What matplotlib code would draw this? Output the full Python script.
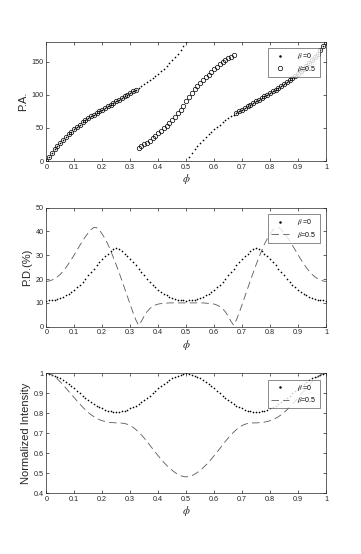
import numpy as np
import matplotlib
matplotlib.use("Agg")
import matplotlib.pyplot as plt
from matplotlib.ticker import FuncFormatter

plt.rcParams["font.family"] = ["Liberation Sans", "DejaVu Sans"]
plt.rcParams["mathtext.fontset"] = "stix"

# ── Daten ───────────────────────────────────────────────────────────────────
phi = np.linspace(0, 1, 101)

pa_b0 = [0, 6.5, 12.5, 18, 23, 27.5, 32, 36.5, 40.5, 44.5,
         48, 51.5, 55, 58.5, 61.5, 64.5, 67.5, 70, 72.5, 75,
         77.5, 80, 82.5, 85, 87.5, 90, 92.5, 95, 97.5, 100,
         102.5, 105, 107.5, 110, 112.5, 115.5, 118.5, 121.5, 125, 128.5,
         132, 135.5, 139.5, 143.5, 148, 152.5, 157, 161.5, 167, 173.5,
         180,
         6.5, 12.5, 18, 23, 27.5, 32, 36.5, 40.5, 44.5,
         48, 51.5, 55, 58.5, 61.5, 64.5, 67.5, 70, 72.5, 75,
         77.5, 80, 82.5, 85, 87.5, 90, 92.5, 95, 97.5, 100,
         102.5, 105, 107.5, 110, 112.5, 115.5, 118.5, 121.5, 125, 128.5,
         132, 135.5, 139.5, 143.5, 148, 152.5, 157, 161.5, 167, 173.5,
         180]

pa_b05 = [0, 6.5, 12.5, 18, 23, 27.5, 32, 36.5, 40.5, 44.5,
          48, 51.5, 55, 58.5, 61.5, 64.5, 67.5, 70, 72.5, 75,
          77.5, 80, 82.5, 85, 87.5, 90, 92.5, 95, 97.5, 100,
          102.5, 105, 107.5,
          20, 22.5, 25, 27.5, 30.5, 34, 37.5,
          41.5, 45.5, 49.5, 53.5, 58, 62.5, 67, 72, 77.5, 83.5,
          90, 96.5, 102.5, 108, 113, 117.5, 122, 126.5, 130.5, 134.5,
          138.5, 142.5, 146, 149.5, 152.5, 155, 157.5, 160,
          72.5, 75,
          77.5, 80, 82.5, 85, 87.5, 90, 92.5, 95, 97.5, 100,
          102.5, 105, 107.5, 110, 112.5, 115.5, 118.5, 121.5, 125, 128.5,
          132, 135.5, 139.5, 143.5, 148, 152.5, 157, 161.5, 167, 173.5,
          180]

pd_b0 = [11.0, 11.05, 11.2, 11.4, 11.7, 12.1, 12.6, 13.2, 13.9, 14.7,
         15.6, 16.6, 17.7, 18.9, 20.2, 21.6, 23.0, 24.4, 25.8, 27.1,
         28.3, 29.5, 30.6, 31.7, 32.6, 32.9,
         32.6, 31.7, 30.6, 29.5, 28.3, 27.1, 25.8, 24.4, 23.0, 21.6,
         20.2, 18.9, 17.7, 16.6, 15.6, 14.7, 13.9, 13.2, 12.6, 12.1,
         11.7, 11.4, 11.2, 11.05, 11.0,
         11.05, 11.2, 11.4, 11.7, 12.1, 12.6, 13.2, 13.9, 14.7,
         15.6, 16.6, 17.7, 18.9, 20.2, 21.6, 23.0, 24.4, 25.8, 27.1,
         28.3, 29.5, 30.6, 31.7, 32.6, 32.9,
         32.6, 31.7, 30.6, 29.5, 28.3, 27.1, 25.8, 24.4, 23.0, 21.6,
         20.2, 18.9, 17.7, 16.6, 15.6, 14.7, 13.9, 13.2, 12.6, 12.1,
         11.7, 11.4, 11.2, 11.05, 11.0]

pd_b05 = [19.0, 19.2, 19.6, 20.2, 21.0, 22.0, 23.3, 24.8, 26.5, 28.3,
          30.2, 32.2, 34.2, 36.1, 37.9, 39.4, 40.8, 41.7, 41.6, 40.6,
          38.9, 37.0, 34.7, 32.0, 29.0, 26.0, 22.8, 19.5, 16.1, 12.7,
          9.3, 6.0, 2.9, 0.6, 2.3, 4.5, 6.3, 7.6, 8.5, 9.1,
          9.5, 9.7, 9.8, 9.9, 10.0, 10.0, 10.0, 10.0, 10.0, 10.0,
          10.0,
          10.0, 10.0, 10.0, 10.0, 10.0, 10.0, 9.9, 9.8, 9.7, 9.5,
          9.1, 8.5, 7.6, 6.3, 4.5, 2.3, 0.6, 2.9, 6.0, 9.3,
          12.7, 16.1, 19.5, 22.8, 26.0, 29.0, 32.0, 34.7, 37.0, 38.9,
          40.6, 41.6, 41.7, 40.8, 39.4, 37.9, 36.1, 34.2, 32.2, 30.2,
          28.3, 26.5, 24.8, 23.3, 22.0, 21.0, 20.2, 19.6, 19.2, 19.0]

int_b0 = [1.000, 0.998, 0.994, 0.988, 0.982, 0.975, 0.966, 0.957, 0.946, 0.936,
          0.925, 0.913, 0.901, 0.889, 0.877, 0.866, 0.856, 0.846, 0.838, 0.831,
          0.825, 0.819, 0.814, 0.810, 0.807, 0.805,
          0.807, 0.810, 0.814, 0.819, 0.825, 0.831, 0.838, 0.846, 0.856, 0.866,
          0.877, 0.889, 0.901, 0.913, 0.925, 0.936, 0.946, 0.957, 0.966, 0.975,
          0.982, 0.988, 0.994, 0.998, 1.000,
          0.998, 0.994, 0.988, 0.982, 0.975, 0.966, 0.957, 0.946, 0.936,
          0.925, 0.913, 0.901, 0.889, 0.877, 0.866, 0.856, 0.846, 0.838, 0.831,
          0.825, 0.819, 0.814, 0.810, 0.807, 0.805,
          0.807, 0.810, 0.814, 0.819, 0.825, 0.831, 0.838, 0.846, 0.856, 0.866,
          0.877, 0.889, 0.901, 0.913, 0.925, 0.936, 0.946, 0.957, 0.966, 0.975,
          0.982, 0.988, 0.994, 0.998, 1.000]

int_b05 = [1.000, 0.998, 0.992, 0.983, 0.971, 0.957, 0.942, 0.926, 0.910, 0.894,
           0.878, 0.862, 0.846, 0.831, 0.817, 0.804, 0.793, 0.783, 0.775, 0.768,
           0.763, 0.759, 0.756, 0.754, 0.753, 0.752, 0.752, 0.751, 0.749, 0.745,
           0.739, 0.730, 0.719, 0.706, 0.692, 0.676, 0.659, 0.641, 0.623, 0.605,
           0.588, 0.571, 0.555, 0.540, 0.527, 0.515, 0.504, 0.495, 0.488, 0.484,
           0.482,
           0.484, 0.488, 0.495, 0.504, 0.515, 0.527, 0.540, 0.555, 0.571, 0.588,
           0.605, 0.623, 0.641, 0.659, 0.676, 0.692, 0.706, 0.719, 0.730, 0.739,
           0.745, 0.749, 0.751, 0.752, 0.752, 0.753, 0.754, 0.756, 0.759, 0.763,
           0.768, 0.775, 0.783, 0.793, 0.804, 0.817, 0.831, 0.846, 0.862, 0.878,
           0.894, 0.910, 0.926, 0.942, 0.957, 0.971, 0.983, 0.992, 0.998, 1.000]

xticks = [0, 0.1, 0.2, 0.3, 0.4, 0.5, 0.6, 0.7, 0.8, 0.9, 1]
lab0 = r"$\beta$ =0"
lab05 = r"$\beta$=0.5"

# ── Plot ────────────────────────────────────────────────────────────────────
W, H = 361, 554
fig = plt.figure(figsize=(W / 100, H / 100), dpi=100)

def make_ax(top_px, bot_px):
    left, right = 46.3, 326.0
    return fig.add_axes([left / W, 1 - bot_px / H, (right - left) / W, (bot_px - top_px) / H])

ax1 = make_ax(41.7, 161.0)
ax2 = make_ax(207.7, 326.7)
ax3 = make_ax(373.3, 493.3)

gfmt = FuncFormatter(lambda v, p: f"{v:g}")
spine_c = "0.15"

for ax in (ax1, ax2, ax3):
    ax.set_xlim(0, 1)
    ax.set_xticks(xticks)
    ax.xaxis.set_major_formatter(gfmt)
    ax.yaxis.set_major_formatter(gfmt)
    ax.tick_params(direction="in", length=2.2, width=0.5, labelsize=5.2,
                   top=True, right=True, colors=spine_c, pad=2)
    for s in ax.spines.values():
        s.set_linewidth(0.5)
        s.set_color(spine_c)
    ax.set_xlabel(r"$\phi$", fontsize=8, color=spine_c, labelpad=1)

dot_kw = dict(linestyle="none", marker="o", markersize=1.2, color="black", mew=0)
dash_kw = dict(color="0.35", linewidth=0.6, linestyle=(0, (9, 5)))

# P.A.
ax1.plot(phi, pa_b0, label=lab0, **dot_kw)
ax1.plot(phi, pa_b05, linestyle="none", marker="o", markersize=3.2,
         markerfacecolor="none", markeredgecolor="black", mew=0.5, label=lab05)
ax1.set_ylim(0, 180)
ax1.set_yticks([0, 50, 100, 150])
ax1.set_ylabel("P.A.", fontsize=8, color=spine_c, labelpad=2)

# P.D.
ax2.plot(phi, pd_b0, label=lab0, **dot_kw)
ax2.plot(phi, pd_b05, label=lab05, **dash_kw)
ax2.set_ylim(0, 50)
ax2.set_yticks([0, 10, 20, 30, 40, 50])
ax2.set_ylabel("P.D.(%)", fontsize=8, color=spine_c, labelpad=2)

# Intensität
ax3.plot(phi, int_b0, label=lab0, **dot_kw)
ax3.plot(phi, int_b05, label=lab05, **dash_kw)
ax3.set_ylim(0.4, 1)
ax3.set_yticks([0.4, 0.5, 0.6, 0.7, 0.8, 0.9, 1])
ax3.set_ylabel("Normalized Intensity", fontsize=8, color=spine_c, labelpad=2)

for ax in (ax1, ax2, ax3):
    leg = ax.legend(loc="upper right", fontsize=5, frameon=True, fancybox=False,
                    borderpad=0.45, handlelength=2.6, handletextpad=1.2,
                    labelspacing=0.35, borderaxespad=0.9)
    leg.get_frame().set_edgecolor("0.2")
    leg.get_frame().set_linewidth(0.5)
    # Punkt-Symbol in der Legende etwas größer
    leg.legend_handles[0].set_markersize(1.8)

fig.savefig("out.png", dpi=100)
